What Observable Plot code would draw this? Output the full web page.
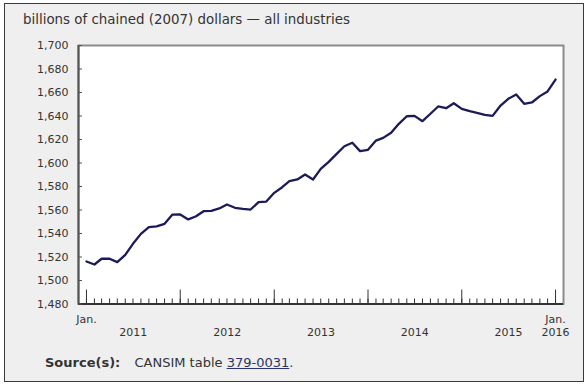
<!DOCTYPE html>
<html>
<head>
<meta charset="utf-8">
<script src="https://cdn.jsdelivr.net/npm/d3@7"></script>
<script src="https://cdn.jsdelivr.net/npm/@observablehq/plot@0.6"></script>
<style>
  body { margin: 0; background: #ffffff; font-family: "DejaVu Sans", Verdana, sans-serif; }
  #page { position: relative; width: 588px; height: 385px; overflow: hidden; }
  #box { position: absolute; left: 4px; top: 3px; width: 578px; height: 377px; border: 1px solid #3a3a3a; background: #efefef; }
  #title { position: absolute; left: 23px; top: 12px; font-size: 13.4px; line-height: 16px; color: #333; white-space: nowrap; }
  #chart { position: absolute; left: 0; top: 0; }
  #source { position: absolute; left: 45px; top: 355px; font-size: 13px; line-height: 16px; color: #333; white-space: nowrap; }
  #source b { margin-right: 10px; }
  #source a { color: #2b3568; text-decoration: underline; }
</style>
</head>
<body>
<div id="page">
  <div id="box"></div>
  <div id="title">billions of chained (2007) dollars — all industries</div>
  <div id="chart"></div>
  <div id="source"><b>Source(s):</b> CANSIM table <a>379-0031</a>.</div>
</div>
<script>
// Monthly GDP, all industries (billions of chained 2007 dollars), Jan. 2011 – Jan. 2016
const firstMonth = [2011, 0];
const values = [
  1516.2, 1513.6, 1518.5, 1518.5, 1515.6, 1521.8, 1531.2, 1539.7, 1545.4, 1546.0, 1548.2, 1556.0,
  1556.2, 1552.0, 1554.5, 1559.0, 1559.3, 1561.3, 1564.7, 1561.9, 1561.0, 1560.4, 1566.7, 1567.2,
  1574.6, 1579.4, 1584.5, 1586.0, 1590.2, 1586.0, 1595.0, 1601.0, 1607.8, 1614.3, 1617.2, 1610.1,
  1611.2, 1619.1, 1621.4, 1625.7, 1633.3, 1639.8, 1640.1, 1635.6, 1641.9, 1648.1, 1646.6, 1650.9,
  1646.1, 1644.1, 1642.7, 1641.0, 1640.1, 1648.9, 1654.6, 1658.3, 1650.4, 1651.5, 1656.9, 1660.9,
  1671.0
];
const yTicks = [1480, 1500, 1520, 1540, 1560, 1580, 1600, 1620, 1640, 1660, 1680, 1700];
const yearLabels = ["2011", "2012", "2013", "2014", "2015"];
const startLabel = "Jan.";
const endLabels = ["Jan.", "2016"];

const start = new Date(Date.UTC(firstMonth[0], firstMonth[1], 1));
const data = values.map((v, i) => ({date: d3.utcMonth.offset(start, i), value: v}));
const months = data.map(d => d.date);
const jans = months.filter(d => d.getUTCMonth() === 0);
const last = months[months.length - 1];
const xDomain = [d3.utcMonth.offset(start, -1), d3.utcMonth.offset(last, 1)];
const yearData = yearLabels.map(y => ({x: new Date(Date.UTC(+y, 6, 2)), text: y}));

const chart = Plot.plot({
  width: 588,
  height: 350,
  marginLeft: 78,
  marginRight: 25,
  marginTop: 45,
  marginBottom: 46.5,
  style: {background: "transparent", fontFamily: "DejaVu Sans, Verdana, sans-serif", fontSize: "11px", color: "#333"},
  x: {type: "utc", domain: xDomain, label: null},
  y: {domain: [1480, 1700], label: null},
  marks: [
    Plot.frame({fill: "white", stroke: "#8c8c8c", strokeWidth: 2}),
    Plot.ruleX([xDomain[0]], {stroke: "#555", strokeWidth: 2}),
    Plot.ruleY([1480], {stroke: "#333", strokeWidth: 2}),
    Plot.axisY(yTicks, {tickSize: -4, tickPadding: 14, tickFormat: d3.format(","), stroke: "#555", fill: "#333", label: null}),
    Plot.axisX(months, {tickSize: -5, tickFormat: () => "", stroke: "#333", label: null}),
    Plot.axisX(jans, {tickSize: -14, tickFormat: () => "", stroke: "#333", label: null}),
    Plot.lineY(data, {x: "date", y: "value", stroke: "#1b1b57", strokeWidth: 2.3}),
    Plot.text([start], {x: d => d, text: [startLabel], frameAnchor: "bottom", dy: 18.5, fill: "#333"}),
    Plot.text(yearData, {x: "x", text: "text", frameAnchor: "bottom", dy: 32, fill: "#333"}),
    Plot.text([last], {x: d => d, text: [endLabels[0]], frameAnchor: "bottom", dy: 18.5, fill: "#333"}),
    Plot.text([last], {x: d => d, text: [endLabels[1]], frameAnchor: "bottom", dy: 32, fill: "#333"})
  ]
});
document.getElementById("chart").appendChild(chart);
</script>
</body>
</html>
